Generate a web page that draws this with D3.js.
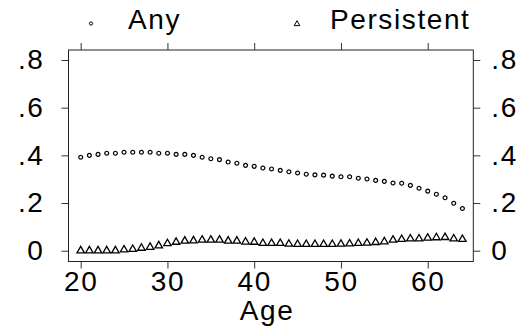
<!DOCTYPE html>
<html>
<head>
<meta charset="utf-8">
<script src="https://cdn.jsdelivr.net/npm/d3@7"></script>
<style>
  html, body { margin: 0; padding: 0; background: #fff; }
  svg text { font-family: Arial, "Liberation Sans", Helvetica, sans-serif; fill: #000; }
</style>
</head>
<body>
<svg id="chart" width="531" height="332"></svg>
<script>
// Ages 20 through 64
const ages = d3.range(20, 65);

// Share with any episode, by age
const anyShare = [
  0.392, 0.400, 0.404, 0.409, 0.409, 0.413, 0.413, 0.413, 0.413, 0.409,
  0.409, 0.404, 0.404, 0.400, 0.392, 0.386, 0.382, 0.372, 0.367, 0.358,
  0.354, 0.347, 0.343, 0.337, 0.331, 0.326, 0.321, 0.318, 0.317, 0.313,
  0.310, 0.310, 0.304, 0.301, 0.295, 0.291, 0.284, 0.283, 0.274, 0.262,
  0.250, 0.237, 0.222, 0.199, 0.177
];

// Share with a persistent episode, by age
const persistentShare = [
  0.000, 0.000, 0.000, 0.000, 0.000, 0.004, 0.006, 0.011, 0.015, 0.021,
  0.030, 0.036, 0.041, 0.042, 0.045, 0.045, 0.045, 0.041, 0.041, 0.037,
  0.036, 0.031, 0.031, 0.031, 0.028, 0.027, 0.027, 0.027, 0.027, 0.027,
  0.028, 0.029, 0.031, 0.032, 0.035, 0.038, 0.045, 0.048, 0.050, 0.050,
  0.053, 0.055, 0.056, 0.050, 0.048
];

const xTicks = [20, 30, 40, 50, 60];
const yTicks = [0, 0.2, 0.4, 0.6, 0.8];
const yTickLabels = ["0", ".2", ".4", ".6", ".8"];
const seriesNames = ["Any", "Persistent"];
const xTitle = "Age";

const svg = d3.select("#chart");

const plot = { left: 68.5, right: 473.3, top: 50, bottom: 261.5 };

const x = d3.scaleLinear().domain([18.594, 65.256]).range([plot.left, plot.right]);
const y = d3.scaleLinear().domain([-0.0453, 0.842]).range([plot.bottom, plot.top]);

const fontSize = 28;
const spacing = "1.6px";
const tickLen = 7;

// Plot frame
svg.append("rect")
  .attr("x", plot.left).attr("y", plot.top)
  .attr("width", plot.right - plot.left).attr("height", plot.bottom - plot.top)
  .attr("fill", "none").attr("stroke", "#222").attr("stroke-width", 1);

function styleAxis(g) {
  g.select(".domain").remove();
  g.selectAll(".tick line").attr("stroke", "#333").attr("stroke-width", 1);
  g.selectAll(".tick text")
    .style("font-size", fontSize + "px")
    .style("letter-spacing", spacing)
    .attr("fill", "#000");
}

// Bottom axis
svg.append("g")
  .attr("transform", `translate(0,${plot.bottom})`)
  .call(d3.axisBottom(x).tickValues(xTicks).tickSize(tickLen).tickPadding(3).tickFormat(d3.format("d")))
  .call(styleAxis);

// Top axis (ticks only)
svg.append("g")
  .attr("transform", `translate(0,${plot.top})`)
  .call(d3.axisTop(x).tickValues(xTicks).tickSize(tickLen).tickFormat(""))
  .call(styleAxis);

// Left axis
svg.append("g")
  .attr("transform", `translate(${plot.left},0)`)
  .call(d3.axisLeft(y).tickValues(yTicks).tickSize(tickLen).tickPadding(17)
    .tickFormat((d, i) => yTickLabels[i]))
  .call(styleAxis);

// Right axis
svg.append("g")
  .attr("transform", `translate(${plot.right},0)`)
  .call(d3.axisRight(y).tickValues(yTicks).tickSize(tickLen).tickPadding(11)
    .tickFormat((d, i) => yTickLabels[i]))
  .call(styleAxis);

// Axis title
svg.append("text")
  .attr("x", 267).attr("y", 320)
  .attr("text-anchor", "middle")
  .style("font-size", fontSize + "px")
  .style("letter-spacing", spacing)
  .text(xTitle);

const circleSym = d3.symbol().type(d3.symbolCircle).size(12);
const triSym = d3.symbol().type(d3.symbolTriangle).size(24);

// Any: hollow circles
svg.append("g").selectAll("path")
  .data(ages)
  .join("path")
  .attr("transform", (d, i) => `translate(${x(d)},${y(anyShare[i])})`)
  .attr("d", circleSym)
  .attr("fill", "none").attr("stroke", "#000").attr("stroke-width", 1.2);

// Persistent: hollow triangles
svg.append("g").selectAll("path")
  .data(ages)
  .join("path")
  .attr("transform", (d, i) => `translate(${x(d)},${y(persistentShare[i])})`)
  .attr("d", triSym)
  .attr("fill", "none").attr("stroke", "#000").attr("stroke-width", 1.3);

// Legend
const legend = svg.append("g");
legend.append("path")
  .attr("transform", "translate(91,23.5)")
  .attr("d", d3.symbol().type(d3.symbolCircle).size(8))
  .attr("fill", "none").attr("stroke", "#000").attr("stroke-width", 1);
legend.append("text")
  .attr("x", 128).attr("y", 29)
  .style("font-size", fontSize + "px")
  .style("letter-spacing", spacing)
  .text(seriesNames[0]);
legend.append("path")
  .attr("transform", "translate(297,24)")
  .attr("d", d3.symbol().type(d3.symbolTriangle).size(14))
  .attr("fill", "none").attr("stroke", "#000").attr("stroke-width", 1);
legend.append("text")
  .attr("x", 330).attr("y", 29)
  .style("font-size", fontSize + "px")
  .style("letter-spacing", spacing)
  .text(seriesNames[1]);
</script>
</body>
</html>
